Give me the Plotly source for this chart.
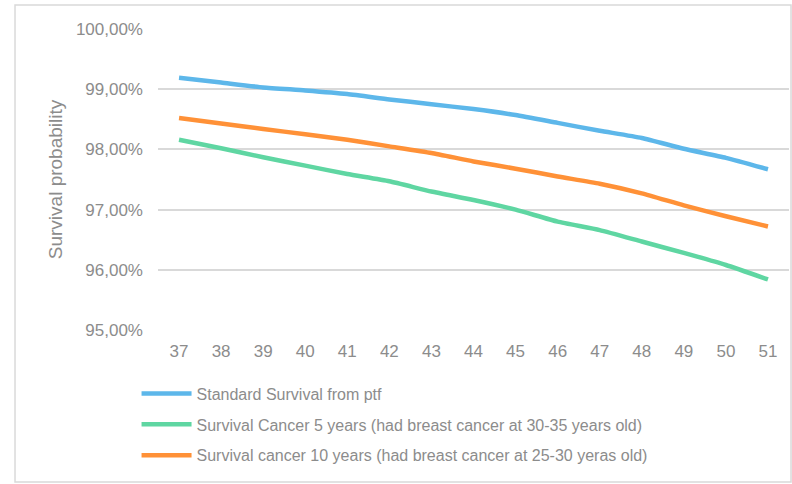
import plotly.graph_objects as go

ages = [str(a) for a in range(37, 52)]
standard = [99.19, 99.11, 99.03, 98.98, 98.92, 98.83, 98.75, 98.67, 98.57, 98.44, 98.31, 98.19, 98.01, 97.86, 97.67]
cancer5 = [98.16, 98.02, 97.87, 97.73, 97.59, 97.47, 97.30, 97.16, 97.00, 96.80, 96.66, 96.47, 96.28, 96.08, 95.84]
cancer10 = [98.52, 98.43, 98.34, 98.25, 98.16, 98.05, 97.94, 97.80, 97.68, 97.55, 97.43, 97.27, 97.07, 96.89, 96.72]
names = [
    "Standard Survival from ptf",
    "Survival Cancer 5 years (had breast cancer at 30-35 years old)",
    "Survival cancer 10 years (had breast cancer at 25-30 yeras old)",
]
colors = ["#5db7ea", "#5fd6a2", "#ff9137"]
series = [standard, cancer5, cancer10]
yticks = [95, 96, 97, 98, 99, 100]

fig = go.Figure()
for i, (nm, vals, col) in enumerate(zip(names, series, colors)):
    fig.add_trace(go.Scatter(
        x=ages, y=[v / 100 for v in vals], name=nm, mode="lines", legendgroup=f"g{i}",
        line=dict(color=col, width=4.5, shape="spline", smoothing=0.5),
    ))

GRAY = "#8c8c8c"
fig.update_layout(
    width=792, height=484,
    margin=dict(l=158, r=3, t=29, b=154, autoexpand=False),
    paper_bgcolor="white", plot_bgcolor="white",
    separators=", ",
    font=dict(family="Liberation Sans, Arial, sans-serif", color=GRAY, size=16),
    showlegend=True,
    legend=dict(
        orientation="v", x=-0.034, xanchor="left", y=-0.155, yanchor="top",
        font=dict(size=16, color=GRAY), tracegroupgap=7,
        itemwidth=50, bgcolor="rgba(0,0,0,0)",
    ),
    xaxis=dict(
        type="category", range=[-0.5, 14.5], showgrid=False, showline=False, zeroline=False,
        tickfont=dict(size=17, color=GRAY), ticks="", ticklabelstandoff=9,
        automargin=False,
    ),
    yaxis=dict(
        range=[0.95, 1.0], tickvals=[t / 100 for t in yticks], tickformat=".2%",
        showgrid=True, gridcolor="#d9d9d9", gridwidth=1.5, zeroline=False, showline=False,
        tickfont=dict(size=17, color=GRAY), ticks="", ticklabelstandoff=14,
        title=dict(text="Survival probability", font=dict(size=19, color=GRAY), standoff=8),
        automargin=False,
    ),
    shapes=[dict(
        type="rect", xref="paper", yref="paper",
        x0=-0.2266, x1=1.0032, y0=-0.505, y1=1.0797,
        line=dict(color="#d9d9d9", width=1.5), fillcolor="rgba(0,0,0,0)", layer="below",
    )],
)

fig.write_html(
    "out.html",
    config={"displayModeBar": False},
    post_script="document.body.style.margin='0px';",
)
